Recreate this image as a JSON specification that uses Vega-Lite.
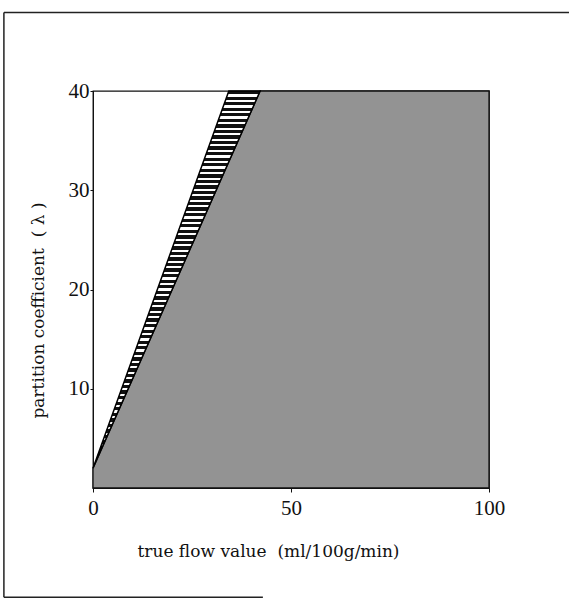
{
"$schema":"https://vega.github.io/schema/vega-lite/v6.json",
"width":396,"height":397,
"autosize":{"type":"none"},
"padding":{"left":93,"top":91,"right":80,"bottom":111},
"background":"white",
"config":{"view":{"stroke":"#111","strokeWidth":1.3},"font":"Liberation Serif"},
"datasets":{
"dominant":[{"flow":0,"lambda":2},{"flow":42.2,"lambda":40},{"flow":100,"lambda":40}],
"band":[{"lambda":2,"left":0,"right":0},{"lambda":40,"left":34.3,"right":42.2}],
"frame":[{"part":"frame"}]
},
"layer":[
{"data":{"name":"dominant"},
"mark":{"type":"area","fill":"#939393","stroke":"#111","strokeWidth":1.3},
"encoding":{
"x":{"field":"flow","type":"quantitative","title":"true flow value\u00a0\u00a0(ml/100g/min)","scale":{"domain":[0,100],"nice":false,"zero":false},
"axis":{"values":[0,50,100],"grid":false,"labelFont":"Liberation Serif","labelFontSize":21,"labelColor":"#111","labelPadding":5,"labelFlush":false,"tickColor":"#111","tickSize":4,"domainColor":"#111","titleFont":"DejaVu Serif","titleFontSize":17,"titleFontWeight":"normal","titleColor":"#111","titleX":175,"titleY":63,"titleAlign":"center","titleBaseline":"middle"}},
"y":{"field":"lambda","type":"quantitative","title":"partition coefficient\u00a0\u00a0(\u00a0λ\u00a0)","scale":{"domain":[0,40],"nice":false,"zero":false},
"axis":{"values":[10,20,30,40],"grid":false,"labelFont":"Liberation Serif","labelFontSize":21,"labelColor":"#111","labelPadding":1,"tickColor":"#111","tickSize":3,"domainColor":"#111","titleFont":"DejaVu Serif","titleFontSize":17,"titleFontWeight":"normal","titleColor":"#111","titleX":-55,"titleY":219,"titleAlign":"center","titleBaseline":"middle","titleAngle":-90}},
"y2":{"datum":0}}},
{"data":{"name":"band"},
"mark":{"type":"area","orient":"horizontal","stroke":"#000","strokeWidth":1.5,
"fill":{"gradient":"linear","x1":0,"y1":0,"x2":0,"y2":1,"stops":[
{"offset":0,"color":"#111"},{"offset":0.0088,"color":"#111"},{"offset":0.0088,"color":"#fff"},{"offset":0.0147,"color":"#fff"},
{"offset":0.0147,"color":"#111"},{"offset":0.0235,"color":"#111"},{"offset":0.0235,"color":"#fff"},{"offset":0.0294,"color":"#fff"},
{"offset":0.0294,"color":"#111"},{"offset":0.0382,"color":"#111"},{"offset":0.0382,"color":"#fff"},{"offset":0.0441,"color":"#fff"},
{"offset":0.0441,"color":"#111"},{"offset":0.0529,"color":"#111"},{"offset":0.0529,"color":"#fff"},{"offset":0.0588,"color":"#fff"},
{"offset":0.0588,"color":"#111"},{"offset":0.0676,"color":"#111"},{"offset":0.0676,"color":"#fff"},{"offset":0.0735,"color":"#fff"},
{"offset":0.0735,"color":"#111"},{"offset":0.0824,"color":"#111"},{"offset":0.0824,"color":"#fff"},{"offset":0.0882,"color":"#fff"},
{"offset":0.0882,"color":"#111"},{"offset":0.0971,"color":"#111"},{"offset":0.0971,"color":"#fff"},{"offset":0.1029,"color":"#fff"},
{"offset":0.1029,"color":"#111"},{"offset":0.1118,"color":"#111"},{"offset":0.1118,"color":"#fff"},{"offset":0.1176,"color":"#fff"},
{"offset":0.1176,"color":"#111"},{"offset":0.1265,"color":"#111"},{"offset":0.1265,"color":"#fff"},{"offset":0.1324,"color":"#fff"},
{"offset":0.1324,"color":"#111"},{"offset":0.1412,"color":"#111"},{"offset":0.1412,"color":"#fff"},{"offset":0.1471,"color":"#fff"},
{"offset":0.1471,"color":"#111"},{"offset":0.1559,"color":"#111"},{"offset":0.1559,"color":"#fff"},{"offset":0.1618,"color":"#fff"},
{"offset":0.1618,"color":"#111"},{"offset":0.1706,"color":"#111"},{"offset":0.1706,"color":"#fff"},{"offset":0.1765,"color":"#fff"},
{"offset":0.1765,"color":"#111"},{"offset":0.1853,"color":"#111"},{"offset":0.1853,"color":"#fff"},{"offset":0.1912,"color":"#fff"},
{"offset":0.1912,"color":"#111"},{"offset":0.2,"color":"#111"},{"offset":0.2,"color":"#fff"},{"offset":0.2059,"color":"#fff"},
{"offset":0.2059,"color":"#111"},{"offset":0.2147,"color":"#111"},{"offset":0.2147,"color":"#fff"},{"offset":0.2206,"color":"#fff"},
{"offset":0.2206,"color":"#111"},{"offset":0.2294,"color":"#111"},{"offset":0.2294,"color":"#fff"},{"offset":0.2353,"color":"#fff"},
{"offset":0.2353,"color":"#111"},{"offset":0.2441,"color":"#111"},{"offset":0.2441,"color":"#fff"},{"offset":0.25,"color":"#fff"},
{"offset":0.25,"color":"#111"},{"offset":0.2588,"color":"#111"},{"offset":0.2588,"color":"#fff"},{"offset":0.2647,"color":"#fff"},
{"offset":0.2647,"color":"#111"},{"offset":0.2735,"color":"#111"},{"offset":0.2735,"color":"#fff"},{"offset":0.2794,"color":"#fff"},
{"offset":0.2794,"color":"#111"},{"offset":0.2882,"color":"#111"},{"offset":0.2882,"color":"#fff"},{"offset":0.2941,"color":"#fff"},
{"offset":0.2941,"color":"#111"},{"offset":0.3029,"color":"#111"},{"offset":0.3029,"color":"#fff"},{"offset":0.3088,"color":"#fff"},
{"offset":0.3088,"color":"#111"},{"offset":0.3176,"color":"#111"},{"offset":0.3176,"color":"#fff"},{"offset":0.3235,"color":"#fff"},
{"offset":0.3235,"color":"#111"},{"offset":0.3324,"color":"#111"},{"offset":0.3324,"color":"#fff"},{"offset":0.3382,"color":"#fff"},
{"offset":0.3382,"color":"#111"},{"offset":0.3471,"color":"#111"},{"offset":0.3471,"color":"#fff"},{"offset":0.3529,"color":"#fff"},
{"offset":0.3529,"color":"#111"},{"offset":0.3618,"color":"#111"},{"offset":0.3618,"color":"#fff"},{"offset":0.3676,"color":"#fff"},
{"offset":0.3676,"color":"#111"},{"offset":0.3765,"color":"#111"},{"offset":0.3765,"color":"#fff"},{"offset":0.3824,"color":"#fff"},
{"offset":0.3824,"color":"#111"},{"offset":0.3912,"color":"#111"},{"offset":0.3912,"color":"#fff"},{"offset":0.3971,"color":"#fff"},
{"offset":0.3971,"color":"#111"},{"offset":0.4059,"color":"#111"},{"offset":0.4059,"color":"#fff"},{"offset":0.4118,"color":"#fff"},
{"offset":0.4118,"color":"#111"},{"offset":0.4206,"color":"#111"},{"offset":0.4206,"color":"#fff"},{"offset":0.4265,"color":"#fff"},
{"offset":0.4265,"color":"#111"},{"offset":0.4353,"color":"#111"},{"offset":0.4353,"color":"#fff"},{"offset":0.4412,"color":"#fff"},
{"offset":0.4412,"color":"#111"},{"offset":0.45,"color":"#111"},{"offset":0.45,"color":"#fff"},{"offset":0.4559,"color":"#fff"},
{"offset":0.4559,"color":"#111"},{"offset":0.4647,"color":"#111"},{"offset":0.4647,"color":"#fff"},{"offset":0.4706,"color":"#fff"},
{"offset":0.4706,"color":"#111"},{"offset":0.4794,"color":"#111"},{"offset":0.4794,"color":"#fff"},{"offset":0.4853,"color":"#fff"},
{"offset":0.4853,"color":"#111"},{"offset":0.4941,"color":"#111"},{"offset":0.4941,"color":"#fff"},{"offset":0.5,"color":"#fff"},
{"offset":0.5,"color":"#111"},{"offset":0.5088,"color":"#111"},{"offset":0.5088,"color":"#fff"},{"offset":0.5147,"color":"#fff"},
{"offset":0.5147,"color":"#111"},{"offset":0.5235,"color":"#111"},{"offset":0.5235,"color":"#fff"},{"offset":0.5294,"color":"#fff"},
{"offset":0.5294,"color":"#111"},{"offset":0.5382,"color":"#111"},{"offset":0.5382,"color":"#fff"},{"offset":0.5441,"color":"#fff"},
{"offset":0.5441,"color":"#111"},{"offset":0.5529,"color":"#111"},{"offset":0.5529,"color":"#fff"},{"offset":0.5588,"color":"#fff"},
{"offset":0.5588,"color":"#111"},{"offset":0.5676,"color":"#111"},{"offset":0.5676,"color":"#fff"},{"offset":0.5735,"color":"#fff"},
{"offset":0.5735,"color":"#111"},{"offset":0.5824,"color":"#111"},{"offset":0.5824,"color":"#fff"},{"offset":0.5882,"color":"#fff"},
{"offset":0.5882,"color":"#111"},{"offset":0.5971,"color":"#111"},{"offset":0.5971,"color":"#fff"},{"offset":0.6029,"color":"#fff"},
{"offset":0.6029,"color":"#111"},{"offset":0.6118,"color":"#111"},{"offset":0.6118,"color":"#fff"},{"offset":0.6176,"color":"#fff"},
{"offset":0.6176,"color":"#111"},{"offset":0.6265,"color":"#111"},{"offset":0.6265,"color":"#fff"},{"offset":0.6324,"color":"#fff"},
{"offset":0.6324,"color":"#111"},{"offset":0.6412,"color":"#111"},{"offset":0.6412,"color":"#fff"},{"offset":0.6471,"color":"#fff"},
{"offset":0.6471,"color":"#111"},{"offset":0.6559,"color":"#111"},{"offset":0.6559,"color":"#fff"},{"offset":0.6618,"color":"#fff"},
{"offset":0.6618,"color":"#111"},{"offset":0.6706,"color":"#111"},{"offset":0.6706,"color":"#fff"},{"offset":0.6765,"color":"#fff"},
{"offset":0.6765,"color":"#111"},{"offset":0.6853,"color":"#111"},{"offset":0.6853,"color":"#fff"},{"offset":0.6912,"color":"#fff"},
{"offset":0.6912,"color":"#111"},{"offset":0.7,"color":"#111"},{"offset":0.7,"color":"#fff"},{"offset":0.7059,"color":"#fff"},
{"offset":0.7059,"color":"#111"},{"offset":0.7147,"color":"#111"},{"offset":0.7147,"color":"#fff"},{"offset":0.7206,"color":"#fff"},
{"offset":0.7206,"color":"#111"},{"offset":0.7294,"color":"#111"},{"offset":0.7294,"color":"#fff"},{"offset":0.7353,"color":"#fff"},
{"offset":0.7353,"color":"#111"},{"offset":0.7441,"color":"#111"},{"offset":0.7441,"color":"#fff"},{"offset":0.75,"color":"#fff"},
{"offset":0.75,"color":"#111"},{"offset":0.7588,"color":"#111"},{"offset":0.7588,"color":"#fff"},{"offset":0.7647,"color":"#fff"},
{"offset":0.7647,"color":"#111"},{"offset":0.7735,"color":"#111"},{"offset":0.7735,"color":"#fff"},{"offset":0.7794,"color":"#fff"},
{"offset":0.7794,"color":"#111"},{"offset":0.7882,"color":"#111"},{"offset":0.7882,"color":"#fff"},{"offset":0.7941,"color":"#fff"},
{"offset":0.7941,"color":"#111"},{"offset":0.8029,"color":"#111"},{"offset":0.8029,"color":"#fff"},{"offset":0.8088,"color":"#fff"},
{"offset":0.8088,"color":"#111"},{"offset":0.8176,"color":"#111"},{"offset":0.8176,"color":"#fff"},{"offset":0.8235,"color":"#fff"},
{"offset":0.8235,"color":"#111"},{"offset":0.8324,"color":"#111"},{"offset":0.8324,"color":"#fff"},{"offset":0.8382,"color":"#fff"},
{"offset":0.8382,"color":"#111"},{"offset":0.8471,"color":"#111"},{"offset":0.8471,"color":"#fff"},{"offset":0.8529,"color":"#fff"},
{"offset":0.8529,"color":"#111"},{"offset":0.8618,"color":"#111"},{"offset":0.8618,"color":"#fff"},{"offset":0.8676,"color":"#fff"},
{"offset":0.8676,"color":"#111"},{"offset":0.8765,"color":"#111"},{"offset":0.8765,"color":"#fff"},{"offset":0.8824,"color":"#fff"},
{"offset":0.8824,"color":"#111"},{"offset":0.8912,"color":"#111"},{"offset":0.8912,"color":"#fff"},{"offset":0.8971,"color":"#fff"},
{"offset":0.8971,"color":"#111"},{"offset":0.9059,"color":"#111"},{"offset":0.9059,"color":"#fff"},{"offset":0.9118,"color":"#fff"},
{"offset":0.9118,"color":"#111"},{"offset":0.9206,"color":"#111"},{"offset":0.9206,"color":"#fff"},{"offset":0.9265,"color":"#fff"},
{"offset":0.9265,"color":"#111"},{"offset":0.9353,"color":"#111"},{"offset":0.9353,"color":"#fff"},{"offset":0.9412,"color":"#fff"},
{"offset":0.9412,"color":"#111"},{"offset":0.95,"color":"#111"},{"offset":0.95,"color":"#fff"},{"offset":0.9559,"color":"#fff"},
{"offset":0.9559,"color":"#111"},{"offset":0.9647,"color":"#111"},{"offset":0.9647,"color":"#fff"},{"offset":0.9706,"color":"#fff"},
{"offset":0.9706,"color":"#111"},{"offset":0.9794,"color":"#111"},{"offset":0.9794,"color":"#fff"},{"offset":0.9853,"color":"#fff"},
{"offset":0.9853,"color":"#111"},{"offset":0.9941,"color":"#111"},{"offset":0.9941,"color":"#fff"},{"offset":1,"color":"#fff"}
]}},
"encoding":{
"y":{"field":"lambda","type":"quantitative","title":"partition coefficient\u00a0\u00a0(\u00a0λ\u00a0)"},
"x":{"field":"left","type":"quantitative","title":"true flow value\u00a0\u00a0(ml/100g/min)"},
"x2":{"field":"right"}}},
{"data":{"name":"frame"},"mark":{"type":"rule","stroke":"#222","strokeWidth":1.5},
"encoding":{"x":{"datum":-22.5},"x2":{"datum":120.2},"y":{"datum":47.9}}},
{"data":{"name":"frame"},"mark":{"type":"rule","stroke":"#222","strokeWidth":1.5},
"encoding":{"x":{"datum":-22.5},"y":{"datum":47.9},"y2":{"datum":-11}}},
{"data":{"name":"frame"},"mark":{"type":"rule","stroke":"#222","strokeWidth":1.5},
"encoding":{"x":{"datum":-22.5},"x2":{"datum":42.9},"y":{"datum":-11}}}
]
}
